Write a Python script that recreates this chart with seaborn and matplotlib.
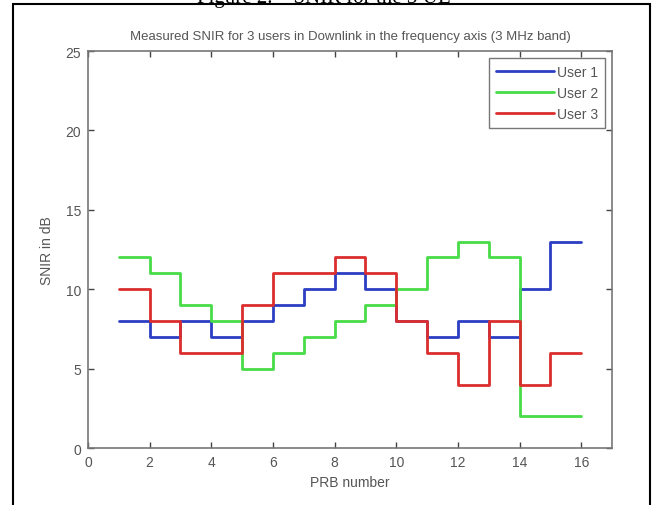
import pandas as pd
import seaborn as sns
import matplotlib.pyplot as plt
from matplotlib.patches import Rectangle

# SNIR per PRB (dB), 15 PRBs in the 3 MHz band
prb = list(range(1, 16))
user1 = [8, 7, 8, 7, 8, 9, 10, 11, 10, 8, 7, 8, 7, 10, 13]
user2 = [12, 11, 9, 8, 5, 6, 7, 8, 9, 10, 12, 13, 12, 2, 2]
user3 = [10, 8, 6, 6, 9, 11, 11, 12, 11, 8, 6, 4, 8, 4, 6]
users = ["User 1", "User 2", "User 3"]
colors = {"User 1": "#2c3fc4", "User 2": "#48dc48", "User 3": "#dc2e2e"}

x_ticks = list(range(0, 17, 2))
y_ticks = list(range(0, 26, 5))

# stairs style: repeat the last value so the last step runs to PRB 16
rows = []
for name, vals in zip(users, [user1, user2, user3]):
    xs = prb + [prb[-1] + 1]
    ys = vals + [vals[-1]]
    for xv, yv in zip(xs, ys):
        rows.append({"PRB": xv, "SNIR": yv, "user": name})
df = pd.DataFrame(rows)

sns.set_style("ticks")
plt.rcParams["font.family"] = ["Liberation Sans", "DejaVu Sans"]

text_col = "#555555"
fig = plt.figure(figsize=(6.54, 5.06), dpi=100)
ax = fig.add_axes([0.1346, 0.1126, 0.8012, 0.7846])

sns.lineplot(data=df, x="PRB", y="SNIR", hue="user", palette=colors,
             drawstyle="steps-post", linewidth=2, legend=False, ax=ax)

ax.set_xlim(0, 17)
ax.set_ylim(0, 25)
ax.set_xticks(x_ticks)
ax.set_yticks(y_ticks)
ax.tick_params(direction="in", length=4, width=1, colors="#444444",
               labelcolor=text_col, labelsize=10, top=True, right=True, pad=5)
for sp in ax.spines.values():
    sp.set_visible(True)
    sp.set_color("#777777")
    sp.set_linewidth(1.2)

ax.set_xlabel("PRB number", fontsize=10, color=text_col, labelpad=4)
ax.set_ylabel("SNIR in dB", fontsize=10, color=text_col, labelpad=8)
ax.set_title("Measured SNIR for 3 users in Downlink in the frequency axis (3 MHz band)",
             fontsize=9.5, color=text_col, pad=9)

leg = ax.legend(ax.get_lines()[:3], users, loc="upper right", fontsize=10,
                handlelength=4.2, handletextpad=0.2, labelspacing=0.5,
                borderaxespad=0.5, borderpad=0.5, fancybox=False,
                framealpha=1, edgecolor="#777777")
for t in leg.get_texts():
    t.set_color(text_col)

# caption of the paper, cut by the top of the crop, and the page frame
fig.text(0.495, 1 - 3 / 506, "Figure 2.    SNIR for the 3 UE", ha="center",
         va="baseline", fontsize=15, family="Liberation Serif", color="black")
fig.patches.append(Rectangle((13 / 654, -0.01), 637 / 654, 1 - 5 / 506 + 0.01,
                             transform=fig.transFigure, fill=False,
                             edgecolor="black", linewidth=1.5))

fig.savefig("out.png", dpi=100)
